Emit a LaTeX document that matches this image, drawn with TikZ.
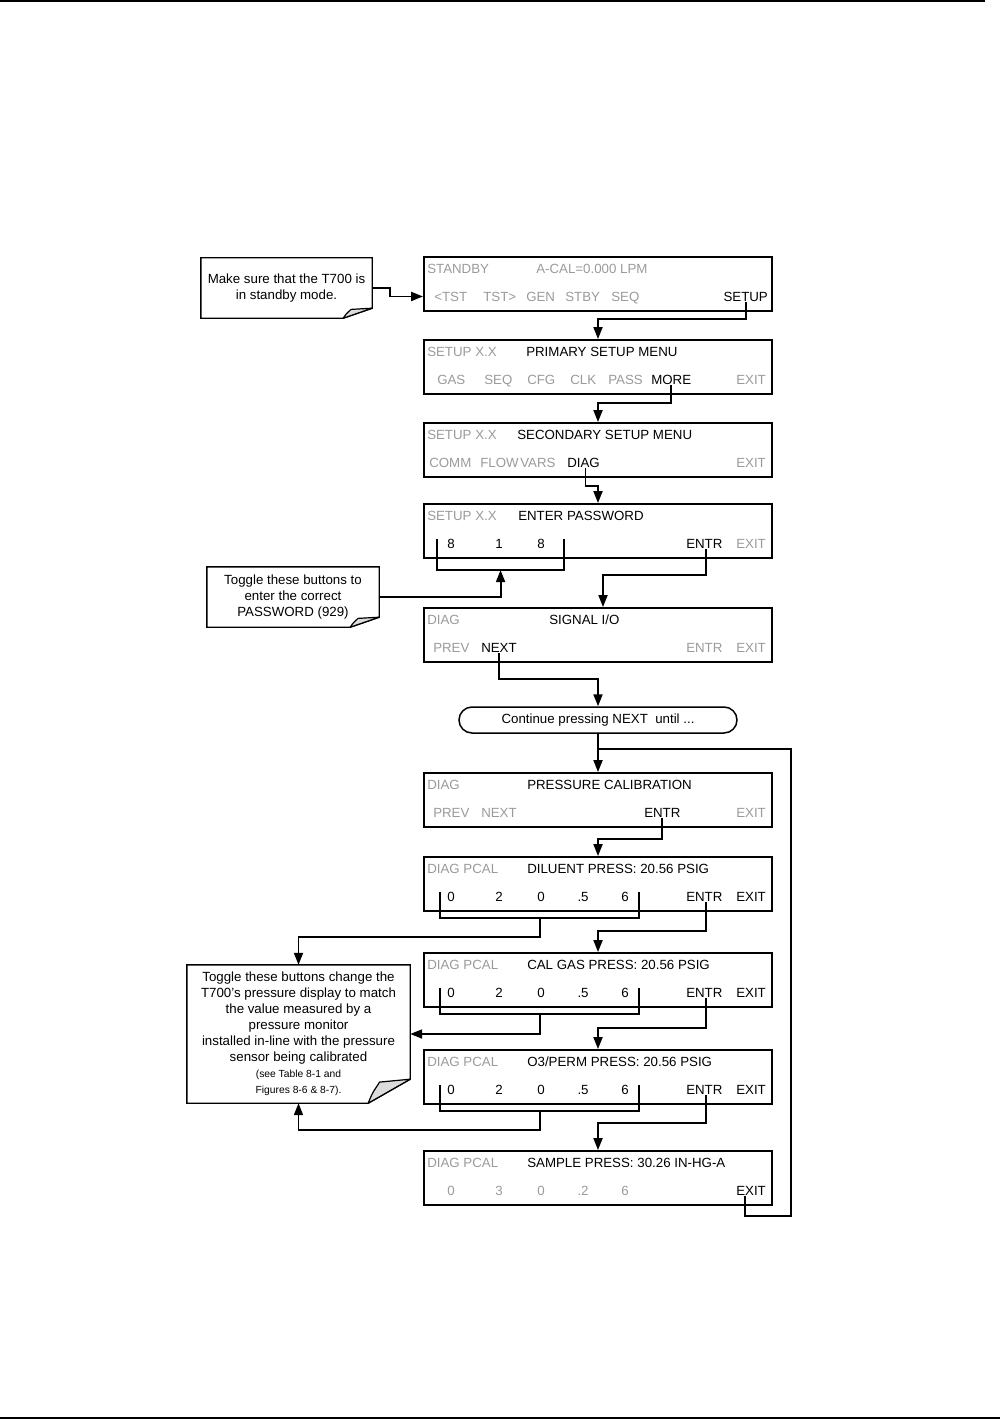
\documentclass[tikz,border=0pt]{standalone}
\usepackage{fontspec}
\setmainfont{Liberation Sans}
\usepackage{xcolor}
\usepackage{tikz}
\usetikzlibrary{calc,arrows.meta}
\definecolor{dimtext}{HTML}{9A9A9A}
\definecolor{foldfill}{HTML}{DCDCDC}
\tikzset{
  disp/.style={draw=black, line width=1.9pt, minimum width=348pt, minimum height=54pt, inner sep=0pt},
  dim/.style={text=dimtext, inner sep=1pt, anchor=base west},
  key/.style={text=black, inner sep=1pt, anchor=base west},
  link/.style={draw=black, line width=1.9pt},
  arr/.style={link, -{Triangle[length=12pt, width=9pt]}},
  note/.style={align=center, inner sep=0pt},
  notebox/.style={draw=black, line width=1.4pt, line join=miter},
  fold/.style={draw=black, line width=1.2pt, fill=foldfill, line join=round},
  contbox/.style={draw=black, line width=1.5pt, rounded corners=13pt, minimum width=278pt, minimum height=26pt, inner sep=0pt},
  rule/.style={draw=black, line width=1.5pt}
}
\newcommand{\DogEar}[3]{%
  % #1 = note node, #2 = fold width, #3 = fold height
  \draw[notebox] (#1.north west) -- (#1.north east) -- ($(#1.south east)+(0,-#3)$)
    -- ($(#1.south east)+(-#2,0)$) -- (#1.south west) -- cycle;
  \draw[fold] ($(#1.south east)+(-#2,0)$) .. controls +(0.12*#2,-0.55*#3) and +(-0.1*#2,0.3*#3) ..
    ($(#1.south east)+(-0.73*#2,-0.88*#3)$) -- ($(#1.south east)+(0,-#3)$) -- cycle;
}
\newcommand{\KeyBracket}[4]{%
  % #1 = display node, #2 = left tick, #3 = right tick, #4 = depth below box top
  \draw[link] ($(#1.north west)+(#2,36)$) -- ($(#1.north west)+(#2,#4)$)
    -- ($(#1.north west)+(#3,#4)$) -- ($(#1.north west)+(#3,36)$);
  \coordinate (#1br) at ($(#1.north west)+({(#2+#3)/2},#4)$);
}
\newcommand{\smallnote}{\fontsize{10.3}{12.5}\selectfont}

\begin{document}
\begin{tikzpicture}[x=1pt, y=-1pt, line cap=butt, line join=miter,
  every node/.style={font=\fontsize{13.3}{16}\selectfont}]
  \useasboundingbox (0,0) rectangle (1005,1420);
  % page rules
  \draw[rule] (0,1) -- (985,1);
  \draw[rule] (0,1418) -- (1000,1418);

  % displays
  \node[disp] (s1) at (598,284) {};
  \node[disp] (s2) at (598,367) {};
  \node[disp] (s3) at (598,450) {};
  \node[disp] (s4) at (598,531) {};
  \node[disp] (s5) at (598,635) {};
  \node[contbox] (cont) at (598,720) {Continue pressing NEXT\ \ until ...};
  \node[disp] (s7) at (598,800) {};
  \node[disp] (s8) at (598,884) {};
  \node[disp] (s9) at (598,980) {};
  \node[disp] (s10) at (598,1077) {};
  \node[disp] (s11) at (598,1178) {};

  % standby
  \node[dim] at ($(s1.north west)+(3,17)$) {STANDBY};
  \node[dim] at ($(s1.north west)+(112,17)$) {A-CAL=0.000 LPM};
  \node[dim] (s1tst) at ($(s1.north west)+(10,45)$) {<TST};
  \node[dim] at ($(s1.north west)+(59,45)$) {TST>};
  \node[dim] at ($(s1.north west)+(102,45)$) {GEN};
  \node[dim] at ($(s1.north west)+(141,45)$) {STBY};
  \node[dim] at ($(s1.north west)+(187,45)$) {SEQ};
  \node[key, anchor=base east] (s1setup) at ($(s1.north west)+(346,45)$) {SETUP};

  % primary setup
  \node[dim] at ($(s2.north west)+(3,17)$) {SETUP X.X};
  \node[key] at ($(s2.north west)+(102,17)$) {PRIMARY SETUP MENU};
  \node[dim] at ($(s2.north west)+(13,45)$) {GAS};
  \node[dim] at ($(s2.north west)+(60,45)$) {SEQ};
  \node[dim] at ($(s2.north west)+(103,45)$) {CFG};
  \node[dim] at ($(s2.north west)+(146,45)$) {CLK};
  \node[dim] at ($(s2.north west)+(184,45)$) {PASS};
  \node[key] (s2more) at ($(s2.north west)+(227,45)$) {MORE};
  \node[dim, anchor=base east] at ($(s2.north west)+(344,45)$) {EXIT};

  % secondary setup
  \node[dim] at ($(s3.north west)+(3,17)$) {SETUP X.X};
  \node[key] at ($(s3.north west)+(93,17)$) {SECONDARY SETUP MENU};
  \node[dim] at ($(s3.north west)+(5,45)$) {COMM};
  \node[dim] at ($(s3.north west)+(56,45)$) {FLOW};
  \node[dim] at ($(s3.north west)+(96,45)$) {VARS};
  \node[key] (s3diag) at ($(s3.north west)+(143,45)$) {DIAG};
  \node[dim, anchor=base east] at ($(s3.north west)+(344,45)$) {EXIT};

  % password
  \node[dim] at ($(s4.north west)+(3,17)$) {SETUP X.X};
  \node[key] at ($(s4.north west)+(94,17)$) {ENTER PASSWORD};
  \node[key, anchor=base] at ($(s4.north west)+(28,45)$) {8};
  \node[key, anchor=base] at ($(s4.north west)+(76,45)$) {1};
  \node[key, anchor=base] at ($(s4.north west)+(118,45)$) {8};
  \node[key] (s4entr) at ($(s4.north west)+(262,45)$) {ENTR};
  \node[dim, anchor=base east] at ($(s4.north west)+(344,45)$) {EXIT};
  \KeyBracket{s4}{14}{141}{67}

  % signal i/o
  \node[dim] at ($(s5.north west)+(3,17)$) {DIAG};
  \node[key] at ($(s5.north west)+(125,17)$) {SIGNAL I/O};
  \node[dim] at ($(s5.north west)+(9,45)$) {PREV};
  \node[key] (s5next) at ($(s5.north west)+(57,45)$) {NEXT};
  \node[dim] at ($(s5.north west)+(262,45)$) {ENTR};
  \node[dim, anchor=base east] at ($(s5.north west)+(344,45)$) {EXIT};

  % pressure calibration
  \node[dim] at ($(s7.north west)+(3,17)$) {DIAG};
  \node[key] at ($(s7.north west)+(103,17)$) {PRESSURE CALIBRATION};
  \node[dim] at ($(s7.north west)+(9,45)$) {PREV};
  \node[dim] at ($(s7.north west)+(57,45)$) {NEXT};
  \node[key] (s7entr) at ($(s7.north west)+(220,45)$) {ENTR};
  \node[dim, anchor=base east] at ($(s7.north west)+(344,45)$) {EXIT};

  % diluent
  \node[dim] at ($(s8.north west)+(3,17)$) {DIAG PCAL};
  \node[key] at ($(s8.north west)+(103,17)$) {DILUENT PRESS: 20.56 PSIG};
  \node[key, anchor=base] at ($(s8.north west)+(28,45)$) {0};
  \node[key, anchor=base] at ($(s8.north west)+(76,45)$) {2};
  \node[key, anchor=base] at ($(s8.north west)+(118,45)$) {0};
  \node[key, anchor=base] at ($(s8.north west)+(160,45)$) {.5};
  \node[key, anchor=base] at ($(s8.north west)+(202,45)$) {6};
  \node[key] (s8entr) at ($(s8.north west)+(262,45)$) {ENTR};
  \node[key, anchor=base east] at ($(s8.north west)+(344,45)$) {EXIT};
  \KeyBracket{s8}{17}{216}{62}

  % cal gas
  \node[dim] at ($(s9.north west)+(3,17)$) {DIAG PCAL};
  \node[key] at ($(s9.north west)+(103,17)$) {CAL GAS PRESS: 20.56 PSIG};
  \node[key, anchor=base] at ($(s9.north west)+(28,45)$) {0};
  \node[key, anchor=base] at ($(s9.north west)+(76,45)$) {2};
  \node[key, anchor=base] at ($(s9.north west)+(118,45)$) {0};
  \node[key, anchor=base] at ($(s9.north west)+(160,45)$) {.5};
  \node[key, anchor=base] at ($(s9.north west)+(202,45)$) {6};
  \node[key] (s9entr) at ($(s9.north west)+(262,45)$) {ENTR};
  \node[key, anchor=base east] at ($(s9.north west)+(344,45)$) {EXIT};
  \KeyBracket{s9}{17}{216}{62}

  % o3/perm
  \node[dim] at ($(s10.north west)+(3,17)$) {DIAG PCAL};
  \node[key] at ($(s10.north west)+(103,17)$) {O3/PERM PRESS: 20.56 PSIG};
  \node[key, anchor=base] at ($(s10.north west)+(28,45)$) {0};
  \node[key, anchor=base] at ($(s10.north west)+(76,45)$) {2};
  \node[key, anchor=base] at ($(s10.north west)+(118,45)$) {0};
  \node[key, anchor=base] at ($(s10.north west)+(160,45)$) {.5};
  \node[key, anchor=base] at ($(s10.north west)+(202,45)$) {6};
  \node[key] (s10entr) at ($(s10.north west)+(262,45)$) {ENTR};
  \node[key, anchor=base east] at ($(s10.north west)+(344,45)$) {EXIT};
  \KeyBracket{s10}{17}{216}{62}

  % sample
  \node[dim] at ($(s11.north west)+(3,17)$) {DIAG PCAL};
  \node[key] at ($(s11.north west)+(103,17)$) {SAMPLE PRESS: 30.26 IN-HG-A};
  \node[dim, anchor=base] at ($(s11.north west)+(28,45)$) {0};
  \node[dim, anchor=base] at ($(s11.north west)+(76,45)$) {3};
  \node[dim, anchor=base] at ($(s11.north west)+(118,45)$) {0};
  \node[dim, anchor=base] at ($(s11.north west)+(160,45)$) {.2};
  \node[dim, anchor=base] at ($(s11.north west)+(202,45)$) {6};
  \node[key, anchor=base east] (s11exit) at ($(s11.north west)+(344,45)$) {EXIT};

  % notes
  \node[note, minimum width=171pt, minimum height=60pt] (noteA) at (286.5,288)
    {Make sure that the T700 is\\in standby mode.};
  \DogEar{noteA}{29}{10}
  \node[note, minimum width=172pt, minimum height=60pt] (noteB) at (293,597)
    {Toggle these buttons to\\enter the correct\\PASSWORD (929)};
  \DogEar{noteB}{29}{10}
  \node[note, minimum width=223pt, minimum height=138pt] (noteC) at (298.5,1034)
    {Toggle these buttons change the\\T700's pressure display to match\\the value measured by a\\pressure monitor\\installed in-line with the pressure\\sensor being calibrated\\{\smallnote (see Table 8-1 and}\\{\smallnote Figures 8-6 \& 8-7).}};
  \DogEar{noteC}{42}{24}

  % connectors
  \draw[arr] (noteA.east) -- ++(18,0) |- (s1.west |- s1tst.west);
  \draw[arr] (s1setup.south) -- ++(0,17) -| (s2.north);
  \draw[arr] (s2more.south) -- ++(0,18) -| (s3.north);
  \draw[arr] ([xshift=2pt]s3diag.south) -- ++(0,18) -| (s4.north);
  \draw[arr] (noteB.east) -| (s4br);
  \draw[arr] ([xshift=2pt]s4entr.south) -- ++(0,26) -| ([xshift=5pt]s5.north);
  \draw[arr] (s5next.south) -- ++(0,26) -| (cont.north);
  \coordinate (loopJ) at ($(cont.south)+(0,15)$);
  \draw[arr] (cont.south) -- (s7.north);
  \draw[arr] (s7entr.south) -- ++(0,21) -| (s8.north);
  \draw[arr] ([xshift=2pt]s8entr.south) -- ++(0,29) -| (s9.north);
  \draw[arr] (s8br) -- ++(0,19) -| (noteC.north);
  \draw[arr] ([xshift=2pt]s9entr.south) -- ++(0,30) -| (s10.north);
  \draw[arr] (s9br) |- (noteC.east);
  \draw[arr] ([xshift=2pt]s10entr.south) -- ++(0,28) -| (s11.north);
  \draw[arr] (s10br) -- ++(0,19) -| (noteC.south);
  \draw[link] ([xshift=-6pt]s11exit.south) -- ++(0,20) -| ($(s11.east)+(18,0)$) |- (loopJ);
\end{tikzpicture}
\end{document}
